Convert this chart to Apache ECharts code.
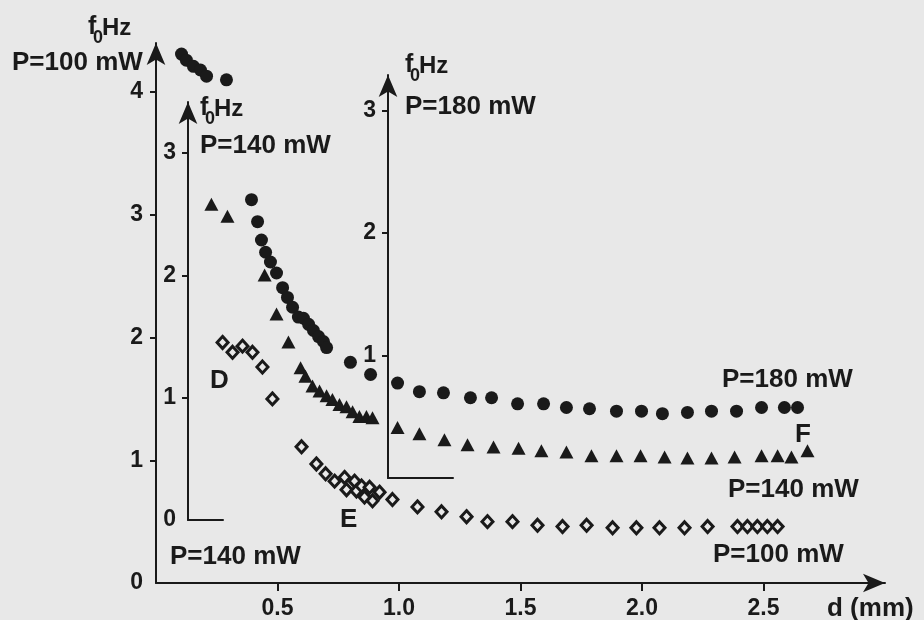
<!DOCTYPE html>
<html>
<head>
<meta charset="utf-8">
<script src="https://cdn.jsdelivr.net/npm/echarts@6/dist/echarts.min.js"></script>
<style>
html,body{margin:0;padding:0;background:#e8e8e8;}
#c{width:924px;height:620px;}
</style>
</head>
<body>
<div id="c"></div>
<script>
// ---- tick values ----
const xTicks = [0.5, 1.0, 1.5, 2.0, 2.5];
const yLabelsMain = [0, 1, 2, 3, 4];
const yTicksMain = [1, 2, 3, 4];
const yLabelsD = [0, 1, 2, 3];
const yTicksD = [1, 2, 3];
const yLabelsF = [1, 2, 3];

// ---- data: [d (mm), f0 (Hz)] ----
// P=100 mW, early points (filled dots, main axis)
const p100Early = [[0.105,4.31],[0.125,4.26],[0.154,4.21],[0.183,4.18],[0.208,4.13],[0.290,4.10]];
// P=100 mW (open diamonds, main axis)
const p100 = [[0.274,1.96],[0.315,1.88],[0.356,1.93],[0.397,1.88],[0.438,1.76],[0.479,1.50],
  [0.599,1.11],[0.660,0.97],[0.698,0.89],[0.735,0.83],[0.776,0.86],[0.784,0.76],[0.817,0.83],
  [0.825,0.75],[0.846,0.79],[0.858,0.70],[0.879,0.78],[0.891,0.67],[0.920,0.74],[0.973,0.68],
  [1.076,0.62],[1.175,0.58],[1.278,0.54],[1.364,0.50],[1.467,0.50],[1.570,0.47],[1.673,0.46],
  [1.772,0.47],[1.879,0.45],[1.977,0.45],[2.072,0.45],[2.175,0.45],[2.270,0.46],[2.393,0.46],
  [2.434,0.46],[2.475,0.46],[2.516,0.46],[2.558,0.46]];
// P=140 mW (filled triangles, read on inset axis D)
const p140 = [[0.228,2.58],[0.294,2.48],[0.447,2.00],[0.496,1.68],[0.545,1.45],[0.595,1.24],
  [0.615,1.17],[0.644,1.09],[0.673,1.05],[0.702,1.01],[0.726,0.98],[0.755,0.94],[0.784,0.92],
  [0.809,0.88],[0.837,0.84],[0.866,0.84],[0.891,0.83],[0.994,0.75],[1.084,0.70],[1.187,0.65],
  [1.282,0.61],[1.389,0.59],[1.492,0.58],[1.586,0.56],[1.689,0.55],[1.792,0.52],[1.895,0.52],
  [1.994,0.52],[2.093,0.51],[2.187,0.50],[2.286,0.50],[2.381,0.51],[2.492,0.52],[2.558,0.52],
  [2.615,0.51],[2.681,0.56]];
// P=180 mW (filled circles, read on inset axis F)
const p180 = [[0.393,2.27],[0.418,2.09],[0.434,1.94],[0.451,1.84],[0.471,1.76],[0.496,1.67],
  [0.521,1.55],[0.541,1.47],[0.562,1.39],[0.586,1.31],[0.607,1.30],[0.628,1.25],[0.648,1.20],
  [0.669,1.15],[0.689,1.11],[0.702,1.06],[0.800,0.94],[0.883,0.84],[0.994,0.77],[1.084,0.70],
  [1.183,0.69],[1.294,0.65],[1.381,0.65],[1.488,0.60],[1.595,0.60],[1.689,0.57],[1.784,0.56],
  [1.895,0.54],[1.998,0.54],[2.084,0.52],[2.187,0.53],[2.286,0.54],[2.389,0.54],[2.492,0.57],
  [2.586,0.57],[2.640,0.57]];

const INK = '#1a1a1a';
const BG = '#e8e8e8';
const FONT = '"Liberation Sans", Arial, sans-serif';
const TICKFS = 23;
const ANNFS = 26;

function lineStyle(){ return {color: INK, width: 2}; }

function fHz(x, y){
  return [
    {type:'text', left:x, top:y, style:{text:'f', font:'bold 25px ' + FONT, fill:INK}},
    {type:'text', left:x+5, top:y+14, style:{text:'0', font:'bold 18px ' + FONT, fill:INK}},
    {type:'text', left:x+14, top:y+1, style:{text:'Hz', font:'bold 24px ' + FONT, fill:INK}}
  ];
}
function txt(text, x, cy, fs){
  return {type:'text', x:x, y:cy, style:{text:text, font:'bold ' + (fs||ANNFS) + 'px ' + FONT, fill:INK, verticalAlign:'middle', align:'left'}};
}

const chart = echarts.init(document.getElementById('c'), null, {renderer:'canvas'});

const labelStyle = {color: INK, fontSize: TICKFS, fontWeight:'bold', fontFamily: FONT};

const option = {
  backgroundColor: BG,
  animation: false,
  grid: [
    {left:156, right:39, top:43, bottom:36},
    {left:188, width:35, top:102, bottom:100},
    {left:388, width:65, top:75, bottom:142}
  ],
  xAxis: [
    {gridIndex:0, type:'value', min:0, max:3.0,
     axisLine:{show:true, lineStyle:lineStyle(), symbol:['none','arrow'], symbolSize:[14,22]},
     axisTick:{show:true, customValues:xTicks, length:8, lineStyle:lineStyle()},
     axisLabel:Object.assign({customValues:xTicks, margin:14, formatter:v=>Number(v).toFixed(1)}, labelStyle),
     splitLine:{show:false}},
    {gridIndex:1, type:'value', min:0, max:1,
     axisLine:{show:true, lineStyle:lineStyle()}, axisTick:{show:false}, axisLabel:{show:false}, splitLine:{show:false}},
    {gridIndex:2, type:'value', min:0, max:1,
     axisLine:{show:true, lineStyle:lineStyle()}, axisTick:{show:false}, axisLabel:{show:false}, splitLine:{show:false}}
  ],
  yAxis: [
    {gridIndex:0, type:'value', min:0, max:4.4,
     axisLine:{show:true, lineStyle:lineStyle(), symbol:['none','arrow'], symbolSize:[14,22]},
     axisTick:{show:true, customValues:yTicksMain, length:6, lineStyle:lineStyle()},
     axisLabel:Object.assign({customValues:yLabelsMain, margin:13}, labelStyle),
     splitLine:{show:false}},
    // hidden scale for P=140 mW values (inset D units) in the main plot area
    {gridIndex:0, type:'value', min:-0.523, max:3.900, show:false, splitLine:{show:false}},
    // hidden scale for P=180 mW values (inset F units) in the main plot area
    {gridIndex:0, type:'value', min:-0.865, max:3.551, show:false, splitLine:{show:false}},
    // inset D axis
    {gridIndex:1, type:'value', min:0, max:3.418,
     axisLine:{show:true, lineStyle:lineStyle(), symbol:['none','arrow'], symbolSize:[14,22]},
     axisTick:{show:true, customValues:yTicksD, length:6, lineStyle:lineStyle()},
     axisLabel:Object.assign({customValues:yLabelsD, margin:12}, labelStyle),
     splitLine:{show:false}},
    // inset F axis
    {gridIndex:2, type:'value', min:0, max:3.29,
     axisLine:{show:true, lineStyle:lineStyle(), symbol:['none','arrow'], symbolSize:[14,22]},
     axisTick:{show:true, customValues:yLabelsF, length:6, lineStyle:lineStyle()},
     axisLabel:Object.assign({customValues:yLabelsF, margin:12}, labelStyle),
     splitLine:{show:false}}
  ],
  series: [
    {type:'scatter', name:'P=100 mW early', xAxisIndex:0, yAxisIndex:0, data:p100Early,
     symbol:'circle', symbolSize:13, itemStyle:{color:INK, opacity:1}, clip:false, z:5},
    {type:'scatter', name:'P=100 mW', xAxisIndex:0, yAxisIndex:0, data:p100,
     symbol:'diamond', symbolSize:[11,12], itemStyle:{color:BG, borderColor:INK, borderWidth:3, opacity:1}, clip:false, z:5},
    {type:'scatter', name:'P=140 mW', xAxisIndex:0, yAxisIndex:1, data:p140,
     symbol:'triangle', symbolSize:[14,13], itemStyle:{color:INK, opacity:1}, clip:false, z:5},
    {type:'scatter', name:'P=180 mW', xAxisIndex:0, yAxisIndex:2, data:p180,
     symbol:'circle', symbolSize:13, itemStyle:{color:INK, opacity:1}, clip:false, z:5}
  ],
  graphic: [].concat(
    fHz(88, 15), fHz(200, 96), fHz(405, 53),
    [
      txt('P=100 mW', 12, 63),
      txt('P=140 mW', 200, 146),
      txt('P=180 mW', 405, 107),
      txt('P=180 mW', 722, 380),
      txt('F', 795, 435),
      txt('P=140 mW', 728, 490),
      txt('P=100 mW', 713, 555),
      txt('D', 210, 381),
      txt('E', 340, 520),
      txt('P=140 mW', 170, 557),
      txt('d (mm)', 827, 609)
    ]
  )
};
chart.setOption(option);
</script>
</body>
</html>
